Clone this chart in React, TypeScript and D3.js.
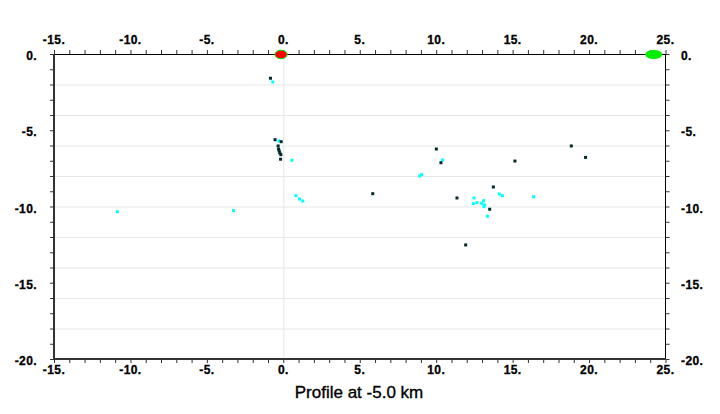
import React from "react";
import * as d3 from "d3";

const xTicks = [-15, -10, -5, 0, 5, 10, 15, 20, 25];
const yTicks = [0, -5, -10, -15, -20];
const gridY = [-2, -4, -6, -8, -10, -12, -14, -16, -18];
const gridX = [0];

const blackX = [-0.84, -0.54, -0.14, -0.34, -0.31, -0.27, -0.23, -0.16, -0.18, 5.85, 10.01, 10.31, 11.36, 13.5, 13.74, 15.15, 11.93, 18.84, 19.77];
const blackY = [-1.59, -5.62, -5.75, -6.03, -6.23, -6.36, -6.49, -6.6, -6.9, -9.16, -6.23, -7.13, -9.44, -10.18, -8.72, -7.02, -12.52, -6.03, -6.78];

const cyanX = [-0.69, -0.29, 0.56, 0.82, 1.06, 1.27, -3.26, -10.86, 10.42, 8.92, 9.05, 12.47, 12.43, 12.67, 12.97, 13.1, 13.12, 13.17, 13.35, 14.13, 14.33, 16.37];
const cyanY = [-1.84, -5.7, -6.97, -9.29, -9.51, -9.64, -10.27, -10.34, -6.95, -8.0, -7.91, -9.44, -9.81, -9.75, -9.79, -9.62, -10.01, -9.9, -10.64, -9.18, -9.29, -9.36];

const stationX = [-0.15];
const stationY = [0];
const greenX = [24.23];
const greenY = [0];

const title = "Profile at -5.0 km";

export default function App() {
  const W = 720, H = 414;
  const L = 54, R = 665.5, T = 54, B = 359;
  const x = d3.scaleLinear().domain([-15, 25]).range([L, R]);
  const y = d3.scaleLinear().domain([0, -20]).range([T, B]);
  const minorX = d3.range(-15, 26, 1);
  const minorY = d3.range(0, -21, -1);
  const fmt = (v: number) => `${v}.`;
  const lblStyle: React.CSSProperties = { fontFamily: "'Liberation Sans', Arial, sans-serif", fontWeight: 700, fontSize: 12, letterSpacing: 0.4, fill: "#000", stroke: "#000", strokeWidth: 0.3 };

  return (
    <svg width={W} height={H} style={{ position: "absolute", left: 0, top: 0, background: "#fff" }}>
      <rect x={0} y={0} width={W} height={H} fill="#fff" />
      {gridY.map((v) => (
        <line key={"gy" + v} x1={L} x2={R} y1={y(v) + 0.5} y2={y(v) + 0.5} stroke="#e6e6e6" strokeWidth={1} />
      ))}
      {gridX.map((v) => (
        <line key={"gx" + v} x1={x(v) + 0.5} x2={x(v) + 0.5} y1={T} y2={B} stroke="#e6e6e6" strokeWidth={1} />
      ))}
      {minorX.map((v) => (
        <g key={"tx" + v}>
          <line x1={x(v) + 0.5} x2={x(v) + 0.5} y1={T} y2={T - 4} stroke="#333" strokeWidth={1} />
          <line x1={x(v) + 0.5} x2={x(v) + 0.5} y1={B} y2={B + 4} stroke="#333" strokeWidth={1} />
        </g>
      ))}
      {minorY.map((v) => (
        <g key={"ty" + v}>
          <line x1={L} x2={L - 4} y1={y(v) + 0.5} y2={y(v) + 0.5} stroke="#333" strokeWidth={1} />
          <line x1={R} x2={R + 4} y1={y(v) + 0.5} y2={y(v) + 0.5} stroke="#333" strokeWidth={1} />
        </g>
      ))}
      <line x1={L} x2={R} y1={T + 0.5} y2={T + 0.5} stroke="#000" strokeWidth={1} />
      <line x1={R} x2={R} y1={T} y2={B} stroke="#000" strokeWidth={1} />
      <line x1={L} x2={L} y1={T} y2={B + 1} stroke="#333" strokeWidth={2} />
      <line x1={L} x2={R} y1={B} y2={B} stroke="#333" strokeWidth={2} />
      {xTicks.map((v) => (
        <g key={"lx" + v}>
          <text x={x(v)} y={44} textAnchor="middle" style={lblStyle}>{fmt(v)}</text>
          <text x={x(v)} y={374} textAnchor="middle" style={lblStyle}>{fmt(v)}</text>
        </g>
      ))}
      {yTicks.map((v) => (
        <g key={"ly" + v}>
          <text x={37} y={y(v) + 6} textAnchor="end" style={lblStyle}>{fmt(v)}</text>
          <text x={681} y={y(v) + 6} textAnchor="start" style={lblStyle}>{fmt(v)}</text>
        </g>
      ))}
      {cyanX.map((v, i) => (
        <rect key={"c" + i} x={x(v) - 1.5} y={y(cyanY[i]) - 1.5} width={3} height={3} fill="#00ffff" />
      ))}
      {blackX.map((v, i) => (
        <rect key={"b" + i} x={x(v) - 1.5} y={y(blackY[i]) - 1.5} width={3} height={3} fill="#002a2a" />
      ))}
      {greenX.map((v, i) => (
        <ellipse key={"g" + i} cx={x(v)} cy={y(greenY[i]) + 0.5} rx={8.5} ry={4.5} fill="#00ee00" />
      ))}
      {stationX.map((v, i) => (
        <ellipse key={"s" + i} cx={x(v)} cy={y(stationY[i]) + 0.5} rx={6} ry={4.2} fill="#ff0000" stroke="#00dd00" strokeWidth={1} />
      ))}
      <text x={359} y={398} textAnchor="middle" stroke="#000" strokeWidth={0.35} style={{ fontFamily: "'Liberation Sans', Arial, sans-serif", fontSize: 17, fill: "#000" }}>{title}</text>
    </svg>
  );
}
